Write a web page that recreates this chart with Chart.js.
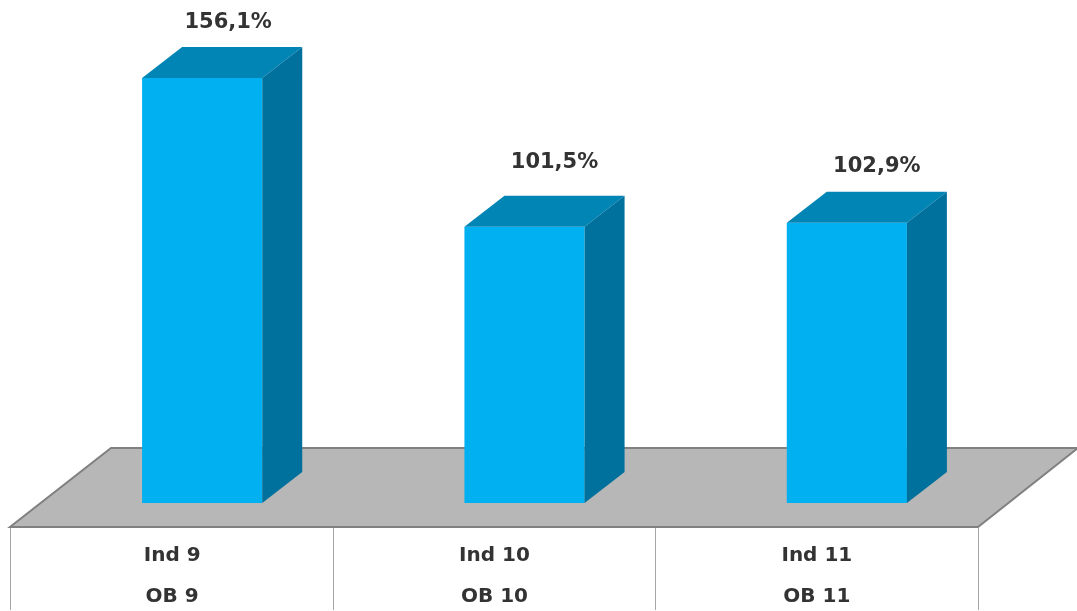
<!DOCTYPE html>
<html>
<head>
<meta charset="utf-8">
<style>html,body{margin:0;padding:0;background:#fff;overflow:hidden}canvas{display:block}</style>
<script src="https://cdn.jsdelivr.net/npm/chart.js@4"></script>
</head>
<body>
<canvas id="c" width="1077" height="611"></canvas>
<script>
const categories = [["Ind 9", "OB 9"], ["Ind 10", "OB 10"], ["Ind 11", "OB 11"]];
const values = [156.1, 101.5, 102.9];
const valueLabels = ["156,1%", "101,5%", "102,9%"];
const labelShift = [[26, -55], [30, -64], [30, -56]];

const FONT = '"DejaVu Sans", sans-serif';
const depthX = 40, depthY = 31;       // 3D extrusion of each bar
const floorX = 100, floorY = 79;      // 3D extrusion of the floor
const barOffsetX = 30, barOffsetY = 24; // bars stand in the middle of the floor

const threeD = {
  id: 'threeD',
  beforeDatasetsDraw(chart) {
    const { ctx, chartArea: a } = chart;
    ctx.save();
    ctx.beginPath();
    ctx.moveTo(a.left - 1, a.bottom);
    ctx.lineTo(a.right, a.bottom);
    ctx.lineTo(a.right + floorX, a.bottom - floorY);
    ctx.lineTo(a.left + floorX, a.bottom - floorY);
    ctx.closePath();
    ctx.fillStyle = '#b7b7b7';
    ctx.fill();
    ctx.strokeStyle = '#808080';
    ctx.lineWidth = 2;
    ctx.stroke();
    ctx.restore();
    ctx.save();
    ctx.translate(barOffsetX, -barOffsetY);
  },
  afterDatasetsDraw(chart) {
    const { ctx } = chart;
    chart.getDatasetMeta(0).data.forEach((bar, i) => {
      const l = bar.x - bar.width / 2, r = bar.x + bar.width / 2, t = bar.y, b = bar.base;
      ctx.fillStyle = '#0085b5';
      ctx.beginPath();
      ctx.moveTo(l, t);
      ctx.lineTo(l + depthX, t - depthY);
      ctx.lineTo(r + depthX, t - depthY);
      ctx.lineTo(r, t);
      ctx.closePath();
      ctx.fill();
      ctx.fillStyle = '#00709c';
      ctx.beginPath();
      ctx.moveTo(r, t);
      ctx.lineTo(r + depthX, t - depthY);
      ctx.lineTo(r + depthX, b - depthY);
      ctx.lineTo(r, b);
      ctx.closePath();
      ctx.fill();
      ctx.fillStyle = '#333333';
      ctx.font = 'bold 21px ' + FONT;
      ctx.textAlign = 'center';
      ctx.textBaseline = 'middle';
      ctx.fillText(valueLabels[i], bar.x + labelShift[i][0], t + labelShift[i][1]);
    });
    ctx.restore();
  },
  afterDraw(chart) {
    const { ctx, chartArea: a, scales: { x } } = chart;
    const band = x.getPixelForValue(1) - x.getPixelForValue(0);
    ctx.save();
    ctx.lineWidth = 1;
    ctx.strokeStyle = '#a6a6a6';
    for (let i = 0; i <= categories.length; i++) {
      const px = Math.floor(x.getPixelForValue(0) + (i - 0.5) * band) + 0.5;
      ctx.beginPath();
      ctx.moveTo(px, a.bottom + 1);
      ctx.lineTo(px, 610);
      ctx.stroke();
    }
    ctx.restore();
  }
};

new Chart(document.getElementById('c'), {
  type: 'bar',
  data: {
    labels: categories,
    datasets: [{
      data: values,
      backgroundColor: '#00b0f0',
      borderWidth: 0,
      barPercentage: 0.3727,
      categoryPercentage: 1,
      clip: false
    }]
  },
  options: {
    responsive: false,
    animation: false,
    layout: { padding: { left: 11, right: 99, top: 0, bottom: 0 } },
    plugins: { legend: { display: false }, tooltip: { enabled: false } },
    scales: {
      x: {
        grid: { display: false },
        border: { display: false },
        afterFit(s) { s.height = 84; },
        ticks: {
          color: '#333333',
          maxRotation: 0,
          autoSkip: false,
          padding: 0,
          font: { family: FONT, size: 20, weight: 'bold', lineHeight: 2.05 }
        }
      },
      y: { display: false, min: 0, max: 193.57 }
    }
  },
  plugins: [threeD]
});
</script>
</body>
</html>
